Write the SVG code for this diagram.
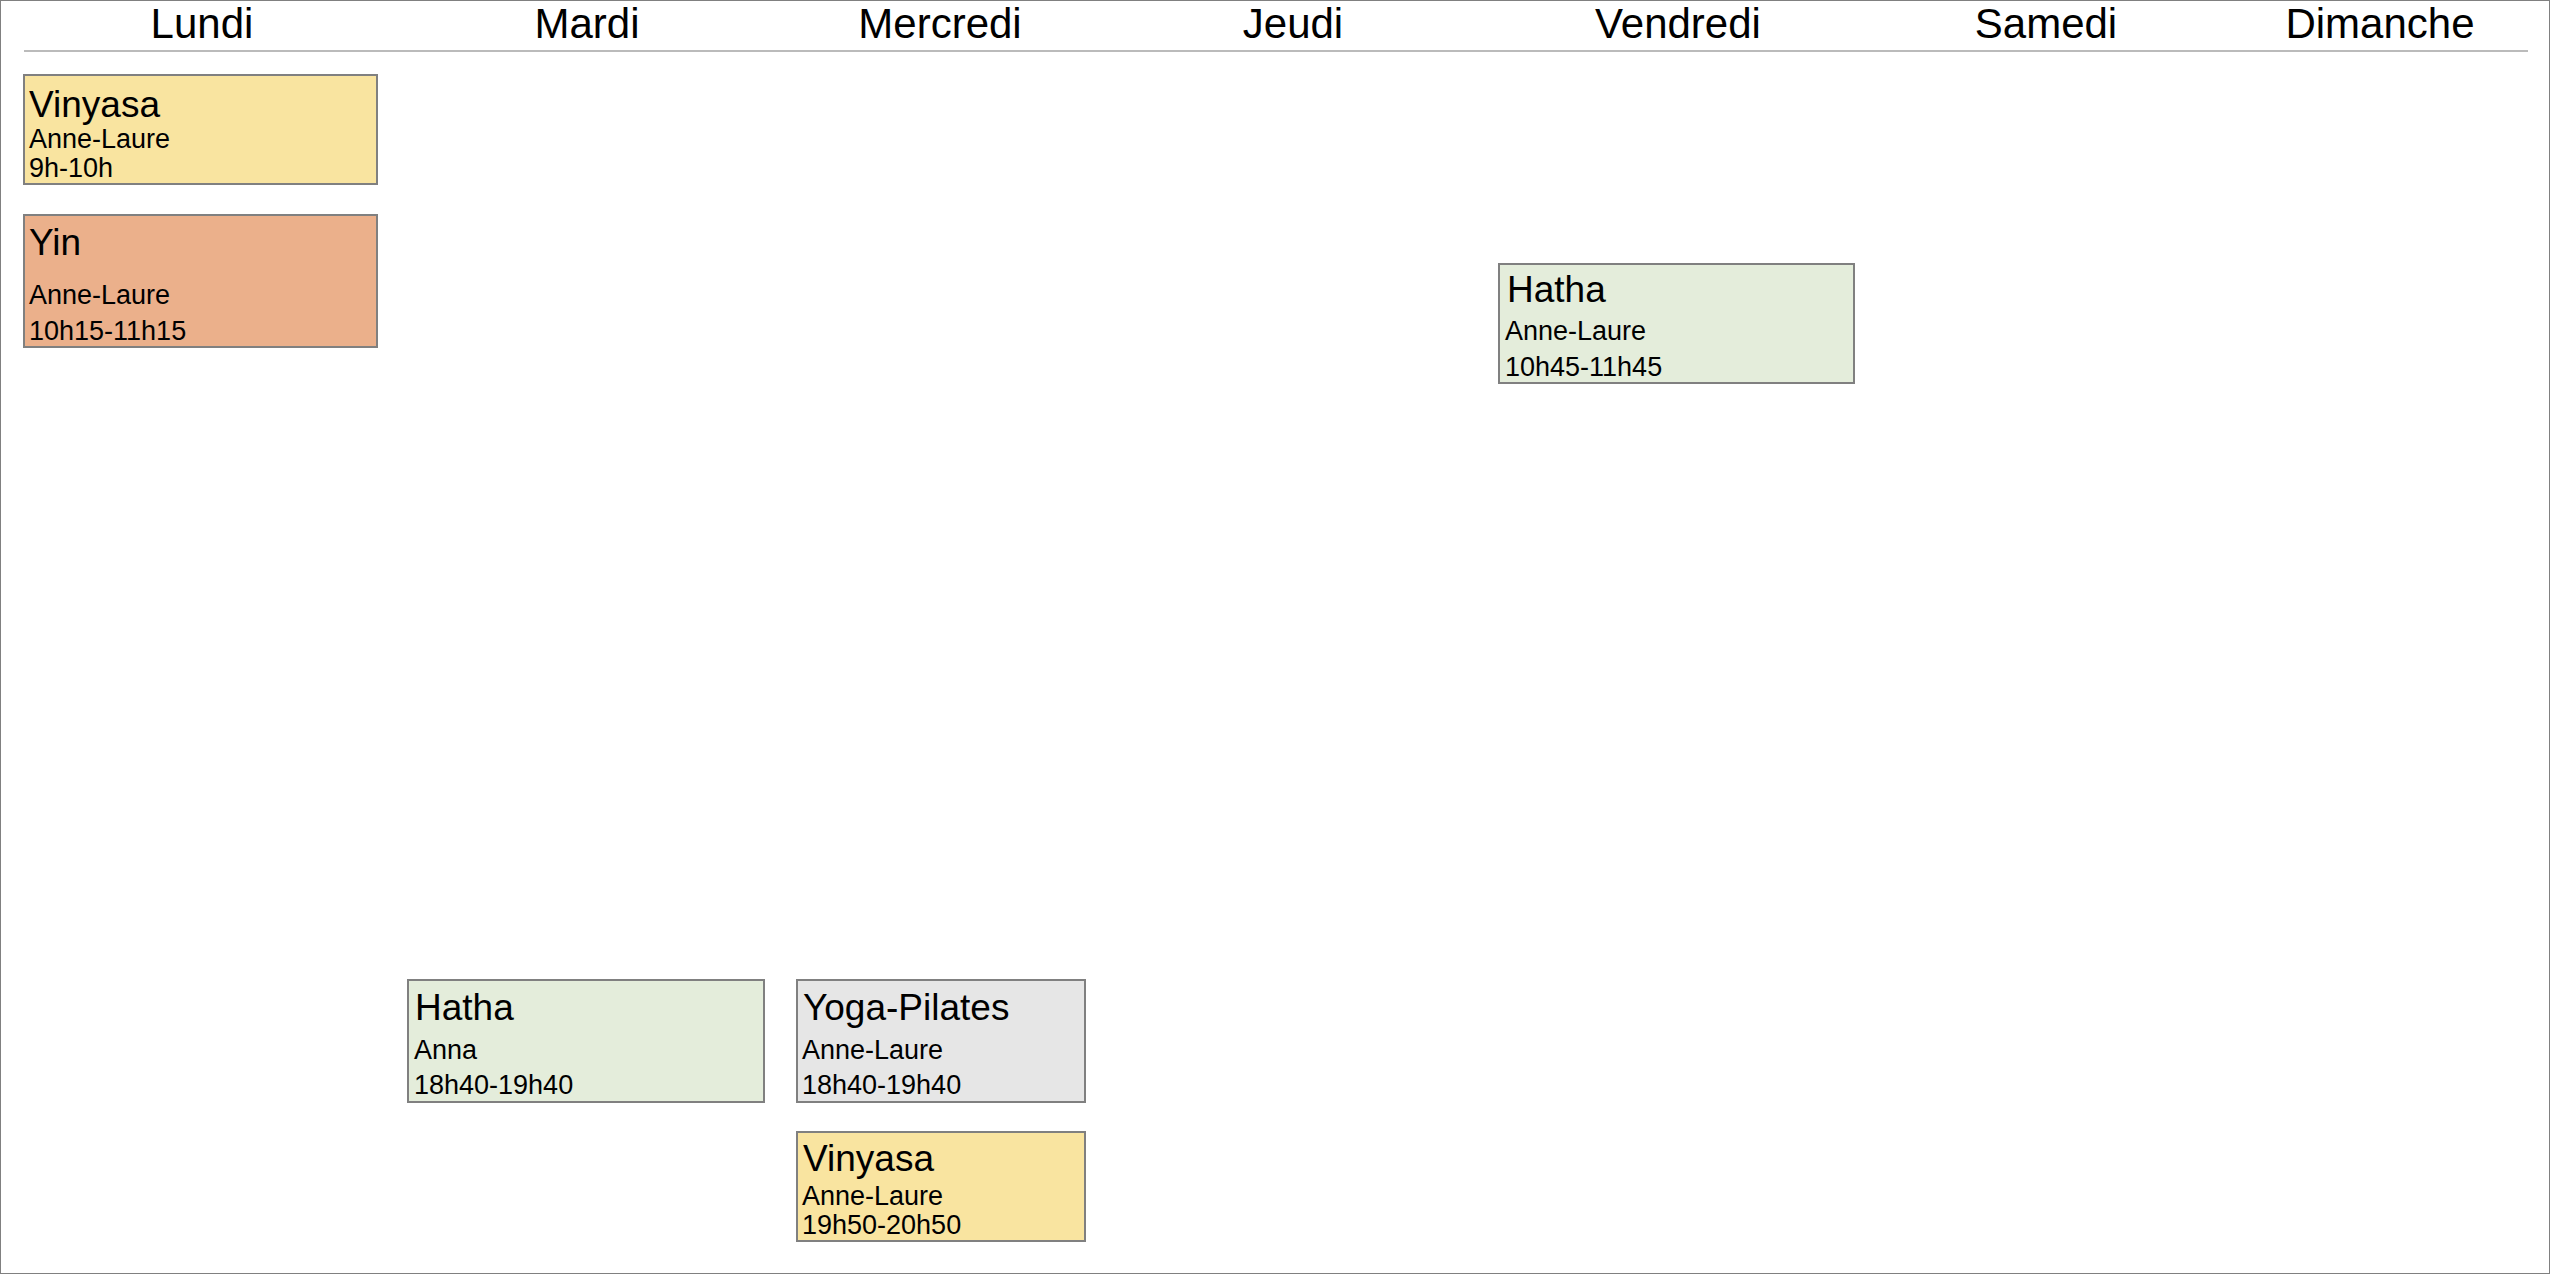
<svg xmlns="http://www.w3.org/2000/svg" width="2550" height="1274" viewBox="0 0 2550 1274">
<style>
text{font-family:"Liberation Sans",Arial,sans-serif;fill:#000}
.day{font-size:42px;text-anchor:middle}
.t{font-size:37px}
.s{font-size:27px}
rect{stroke:#808080;stroke-width:2}
.y{fill:#f9e4a0}.o{fill:#ebb08b}.g{fill:#e4eddb}.gr{fill:#e6e6e6}
</style>
<rect width="2550" height="1274" fill="#fff" stroke="none"/>
<g id="header">
<text class="day" x="202" y="38">Lundi</text>
<text class="day" x="587" y="38">Mardi</text>
<text class="day" x="940" y="38">Mercredi</text>
<text class="day" x="1293" y="38">Jeudi</text>
<text class="day" x="1678" y="38">Vendredi</text>
<text class="day" x="2046" y="38">Samedi</text>
<text class="day" x="2380" y="38">Dimanche</text>
<line x1="24" y1="51" x2="2528" y2="51" stroke="#bbb" stroke-width="2"/>
</g>
<g id="lundi-vinyasa"><rect class="y" x="24" y="75" width="353" height="109"/>
<text class="t" x="29" y="117">Vinyasa</text><text class="s" x="29" y="148">Anne-Laure</text><text class="s" x="29" y="177">9h-10h</text></g>
<g id="lundi-yin"><rect class="o" x="24" y="215" width="353" height="132"/>
<text class="t" x="29" y="255">Yin</text><text class="s" x="29" y="304">Anne-Laure</text><text class="s" x="29" y="340">10h15-11h15</text></g>
<g id="vendredi-hatha"><rect class="g" x="1499" y="264" width="355" height="119"/>
<text class="t" x="1507" y="302">Hatha</text><text class="s" x="1505" y="340">Anne-Laure</text><text class="s" x="1505" y="376">10h45-11h45</text></g>
<g id="mardi-hatha"><rect class="g" x="408" y="980" width="356" height="122"/>
<text class="t" x="415" y="1020">Hatha</text><text class="s" x="414" y="1059">Anna</text><text class="s" x="414" y="1094">18h40-19h40</text></g>
<g id="mercredi-yogapilates"><rect class="gr" x="797" y="980" width="288" height="122"/>
<text class="t" x="803" y="1020">Yoga-Pilates</text><text class="s" x="802" y="1059">Anne-Laure</text><text class="s" x="802" y="1094">18h40-19h40</text></g>
<g id="mercredi-vinyasa"><rect class="y" x="797" y="1132" width="288" height="109"/>
<text class="t" x="803" y="1171">Vinyasa</text><text class="s" x="802" y="1205">Anne-Laure</text><text class="s" x="802" y="1234">19h50-20h50</text></g>
<g id="connectors"/>
</svg>
